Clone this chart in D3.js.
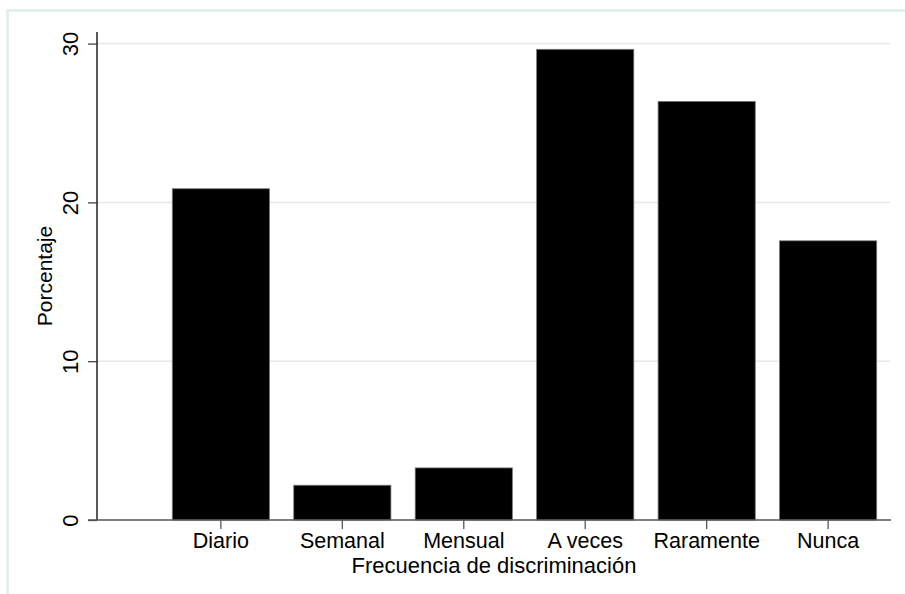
<!DOCTYPE html>
<html>
<head>
<meta charset="utf-8">
<script src="https://cdn.jsdelivr.net/npm/d3@7"></script>
<style>
  html, body { margin: 0; padding: 0; background: #fff; }
  svg { display: block; font-family: "Liberation Sans", Arial, Helvetica, sans-serif; }
</style>
</head>
<body>
<svg id="chart" width="905" height="594"></svg>
<script>
const categories = ["Diario", "Semanal", "Mensual", "A veces", "Raramente", "Nunca"];
const values = [20.86, 2.19, 3.28, 29.64, 26.36, 17.58];
const yTicks = [0, 10, 20, 30];
const xTitle = "Frecuencia de discriminación";
const yTitle = "Porcentaje";

const svg = d3.select("#chart");

// outer frame
svg.append("rect")
  .attr("x", 7.5).attr("y", 10.5)
  .attr("width", 905).attr("height", 600)
  .attr("fill", "none")
  .attr("stroke", "#e2f0eb")
  .attr("stroke-width", 3);

const plotLeft = 97, plotRight = 891, plotTop = 32, plotBottom = 520;

const y = d3.scaleLinear().domain([0, 30.73]).range([plotBottom, plotTop]);
const x = d3.scaleBand().domain(categories).range([172.3, 876.7]).paddingInner(0.2).paddingOuter(0);

// gridlines
svg.append("g")
  .selectAll("line")
  .data(yTicks.filter(d => d > 0))
  .join("line")
  .attr("x1", plotLeft).attr("x2", 890)
  .attr("y1", d => y(d)).attr("y2", d => y(d))
  .attr("stroke", "#e8e8e8")
  .attr("stroke-width", 1.5);

// bars
svg.append("g")
  .selectAll("rect")
  .data(categories.map((c, i) => ({ c, v: values[i] })))
  .join("rect")
  .attr("x", d => x(d.c))
  .attr("width", x.bandwidth())
  .attr("y", d => y(d.v))
  .attr("height", d => y(0) - y(d.v))
  .attr("fill", "#000")
  .attr("stroke", "#777")
  .attr("stroke-width", 0.8);

// y axis
const yAxis = d3.axisLeft(y).tickValues(yTicks).tickSize(9).tickPadding(10).tickFormat(d3.format("d"));
const gy = svg.append("g").attr("transform", `translate(${plotLeft},0)`).call(yAxis);
gy.select(".domain").remove();
gy.append("line").attr("x1", 0).attr("x2", 0).attr("y1", plotTop).attr("y2", plotBottom)
  .attr("stroke", "#222").attr("stroke-width", 1.5);
gy.selectAll(".tick line").attr("stroke", "#444").attr("stroke-width", 1.3);
gy.selectAll(".tick text")
  .attr("font-size", 22)
  .attr("fill", "#000")
  .attr("text-anchor", "middle")
  .attr("dy", 0)
  .attr("x", 0)
  .attr("transform", "translate(-19,0) rotate(-90)");

// x axis
const xAxis = d3.axisBottom(x).tickSize(9);
const gx = svg.append("g").attr("transform", `translate(0,${plotBottom})`).call(xAxis);
gx.select(".domain").remove();
gx.append("line").attr("x1", 88).attr("x2", plotRight).attr("y1", 0).attr("y2", 0)
  .attr("stroke", "#555").attr("stroke-width", 1.5);
gx.selectAll(".tick line").attr("stroke", "#555").attr("stroke-width", 1.3);
gx.selectAll(".tick text").attr("font-size", 21.5).attr("fill", "#000").attr("y", 28).attr("dy", 0);

// titles
svg.append("text")
  .attr("x", (plotLeft + plotRight) / 2)
  .attr("y", 573)
  .attr("text-anchor", "middle")
  .attr("font-size", 22)
  .attr("fill", "#000")
  .text(xTitle);

svg.append("text")
  .attr("transform", `translate(52,${(plotTop + plotBottom) / 2}) rotate(-90)`)
  .attr("text-anchor", "middle")
  .attr("font-size", 21)
  .attr("fill", "#000")
  .text(yTitle);
</script>
</body>
</html>
